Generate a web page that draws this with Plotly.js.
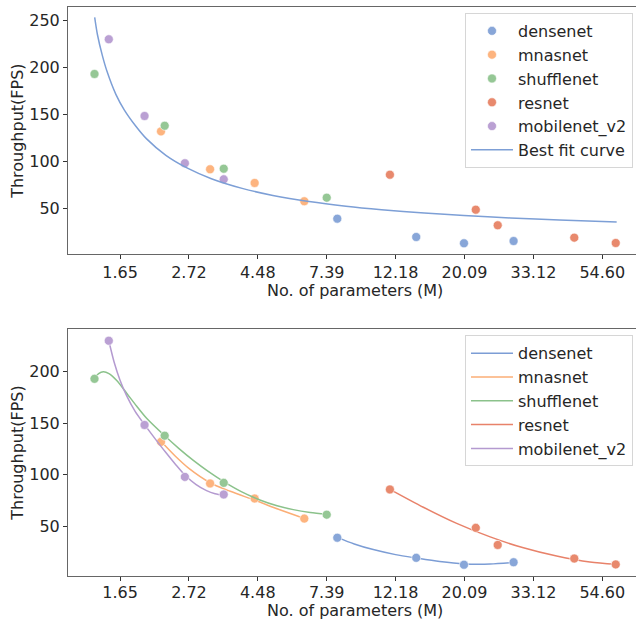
<!DOCTYPE html>
<html>
<head>
<meta charset="utf-8">
<script src="https://cdn.plot.ly/plotly-3.0.1.min.js"></script>
<style>html,body{margin:0;padding:0;background:#fff;}#chart{width:636px;height:619px;}</style>
</head>
<body>
<div id="chart"></div>
<script>
// ---- data ----
const families = ['densenet', 'mnasnet', 'shufflenet', 'resnet', 'mobilenet_v2'];

const densenetX = [7.98, 14.15, 20.01, 28.68];
const densenetY = [38.9, 19.4, 12.7, 15.1];
const mnasnetX = [2.22, 3.17, 4.38, 6.28];
const mnasnetY = [132.0, 91.6, 77.0, 57.5];
const shufflenetX = [1.37, 2.28, 3.50, 7.39];
const shufflenetY = [193.2, 138.0, 92.2, 61.3];
const resnetX = [11.69, 21.80, 25.56, 44.55, 60.19];
const resnetY = [85.8, 48.5, 31.9, 18.7, 13.0];
const mobilenetX = [1.52, 1.97, 2.64, 3.50];
const mobilenetY = [230.2, 148.4, 98.0, 80.9];

// best fit curve (top panel)
const fitX = [1.372, 1.40, 1.45, 1.5, 1.6, 1.7, 1.85, 2.0, 2.3, 2.7, 3.2, 4.0, 5.0, 6.5, 8.5, 11, 15, 20, 28, 40, 60.6];
const fitY = [253.6, 235.0, 213.0, 196.0, 171.5, 155.0, 137.5, 124.0, 106.5, 92.5, 81.5, 71.2, 63.7, 57.2, 52.2, 48.5, 44.9, 42.3, 39.7, 37.6, 35.5];

// per-family curves (bottom panel)
const densenetCurveX = [7.98, 9.025, 10.36, 12.18, 14.15, 16.78, 20.0, 24.17, 28.68];
const densenetCurveY = [39.3, 32.9, 27.4, 22.5, 19.2, 15.8, 13.5, 13.3, 14.8];
const mnasnetCurveX = [2.22, 2.46, 2.718, 3.17, 3.669, 4.39, 5.207, 6.28];
const mnasnetCurveY = [132.5, 118.2, 106.2, 92.3, 84.0, 75.3, 66.5, 57.6];
const shufflenetCurveX = [1.37, 1.412, 1.461, 1.522, 1.61, 1.733, 1.859, 2.0, 2.29, 2.535, 2.807, 3.127, 3.5, 3.975, 4.55, 5.155, 5.8, 6.554, 7.39];
const shufflenetCurveY = [193.5, 198.3, 200.1, 198.3, 191.6, 179.0, 166.8, 154.9, 137.4, 125.2, 114.0, 103.3, 93.4, 83.7, 75.6, 70.0, 66.2, 63.5, 61.8];
const resnetCurveX = [11.69, 14.9, 18.98, 24.2, 30.8, 39.2, 49.9, 60.19];
const resnetCurveY = [85.9, 68.5, 52.8, 39.7, 29.1, 21.1, 15.3, 13.1];
const mobilenetCurveX = [1.52, 1.582, 1.649, 1.731, 1.84, 1.97, 2.117, 2.293, 2.46, 2.64, 2.858, 3.09, 3.287, 3.5];
const mobilenetCurveY = [230.2, 208.8, 191.9, 176.6, 161.6, 148.7, 135.9, 122.1, 110.6, 99.8, 90.7, 84.6, 81.6, 80.1];

const tickLabels = ['1.65', '2.72', '4.48', '7.39', '12.18', '20.09', '33.12', '54.60'];
const topYTicks = [50, 100, 150, 200, 250];
const bottomYTicks = [50, 100, 150, 200];
const xTitle = 'No. of parameters (M)';
const yTitle = 'Throughput(FPS)';

const colors = ['#88a6d8', '#fdb47f', '#95c795', '#e8896d', '#baa0d3'];
const lineColors = ['#7c9dd5', '#fbae76', '#8bc28b', '#e8826a', '#b49ad0'];

const pts = [[densenetX, densenetY], [mnasnetX, mnasnetY], [shufflenetX, shufflenetY], [resnetX, resnetY], [mobilenetX, mobilenetY]];
const curves = [[densenetCurveX, densenetCurveY], [mnasnetCurveX, mnasnetCurveY], [shufflenetCurveX, shufflenetCurveY], [resnetCurveX, resnetCurveY], [mobilenetCurveX, mobilenetCurveY]];

const traces = [];
families.forEach((f, i) => {
  traces.push({
    x: pts[i][0], y: pts[i][1], type: 'scatter', mode: 'markers', name: f,
    xaxis: 'x', yaxis: 'y', legend: 'legend', legendgroup: 't' + i,
    marker: {color: colors[i], size: 9, line: {color: '#ffffff', width: 0.6}}
  });
});
traces.push({
  x: fitX, y: fitY, type: 'scatter', mode: 'lines', name: 'Best fit curve',
  xaxis: 'x', yaxis: 'y', legend: 'legend', legendgroup: 'tfit',
  line: {color: '#7d9fd6', width: 1.5, shape: 'spline', smoothing: 0.8}
});
families.forEach((f, i) => {
  traces.push({
    x: curves[i][0], y: curves[i][1], type: 'scatter', mode: 'lines', name: f,
    xaxis: 'x2', yaxis: 'y2', legend: 'legend2', legendgroup: 'b' + i,
    line: {color: lineColors[i], width: 1.5, shape: 'spline', smoothing: 0.8}
  });
  traces.push({
    x: pts[i][0], y: pts[i][1], type: 'scatter', mode: 'markers', name: f,
    xaxis: 'x2', yaxis: 'y2', showlegend: false,
    marker: {color: colors[i], size: 9, line: {color: '#ffffff', width: 0.6}}
  });
});

const font = {family: 'DejaVu Sans', size: 16, color: '#262626'};
const xr = [0.1226 / Math.LN10, 4.2446 / Math.LN10];
function xaxis(anchor, labelShift) {
  return {
    type: 'log', range: xr, anchor: anchor,
    tickvals: tickLabels.map(Number), ticktext: tickLabels,
    ticks: 'outside', ticklen: 4, tickwidth: 1, tickcolor: '#333',
    ticklabelstandoff: labelShift,
    showline: true, linecolor: '#666', linewidth: 1, mirror: true,
    showgrid: false, zeroline: false, tickfont: font
  };
}
function yaxis(anchor, dom, range, ticks) {
  return {
    domain: dom, anchor: anchor, range: range, tickvals: ticks,
    ticks: 'outside', ticklen: 4, tickwidth: 1, tickcolor: '#333',
    showline: true, linecolor: '#666', linewidth: 1, mirror: false,
    showgrid: false, zeroline: false, tickfont: font,
    title: {text: yTitle, font: font, standoff: 1}
  };
}
const legendBase = {
  font: font, bgcolor: '#ffffff', bordercolor: '#d6d6d6', borderwidth: 1,
  xref: 'paper', yref: 'paper', xanchor: 'right', yanchor: 'top',
  tracegroupgap: 0, itemwidth: 42
};
// x-axis titles placed as annotations so they sit where the reference has them
const titleAnn = (y) => ({
  text: xTitle, font: font, showarrow: false, xref: 'paper', yref: 'paper',
  x: 0.5053, y: y, xanchor: 'center', yanchor: 'middle', borderpad: 0
});
const layout = {
  width: 636, height: 619, paper_bgcolor: '#ffffff', plot_bgcolor: '#ffffff',
  margin: {l: 68, r: 0, t: 7, b: 43},
  font: font,
  xaxis: xaxis('y', 0),
  yaxis: yaxis('x', [0.5654, 1], [0.96, 264.6], topYTicks),
  xaxis2: xaxis('y2', -2),
  yaxis2: yaxis('x2', [0, 0.4341], [1.75, 241.6], bottomYTicks),
  legend: Object.assign({}, legendBase, {x: 0.9947, y: 0.9895}),
  legend2: Object.assign({}, legendBase, {x: 0.9947, y: 0.4230}),
  annotations: [titleAnn((576 - 290) / 569), titleAnn((576 - 610) / 569)],
  showlegend: true
};
Plotly.newPlot('chart', traces, layout, {displayModeBar: false, staticPlot: true});
</script>
</body>
</html>
